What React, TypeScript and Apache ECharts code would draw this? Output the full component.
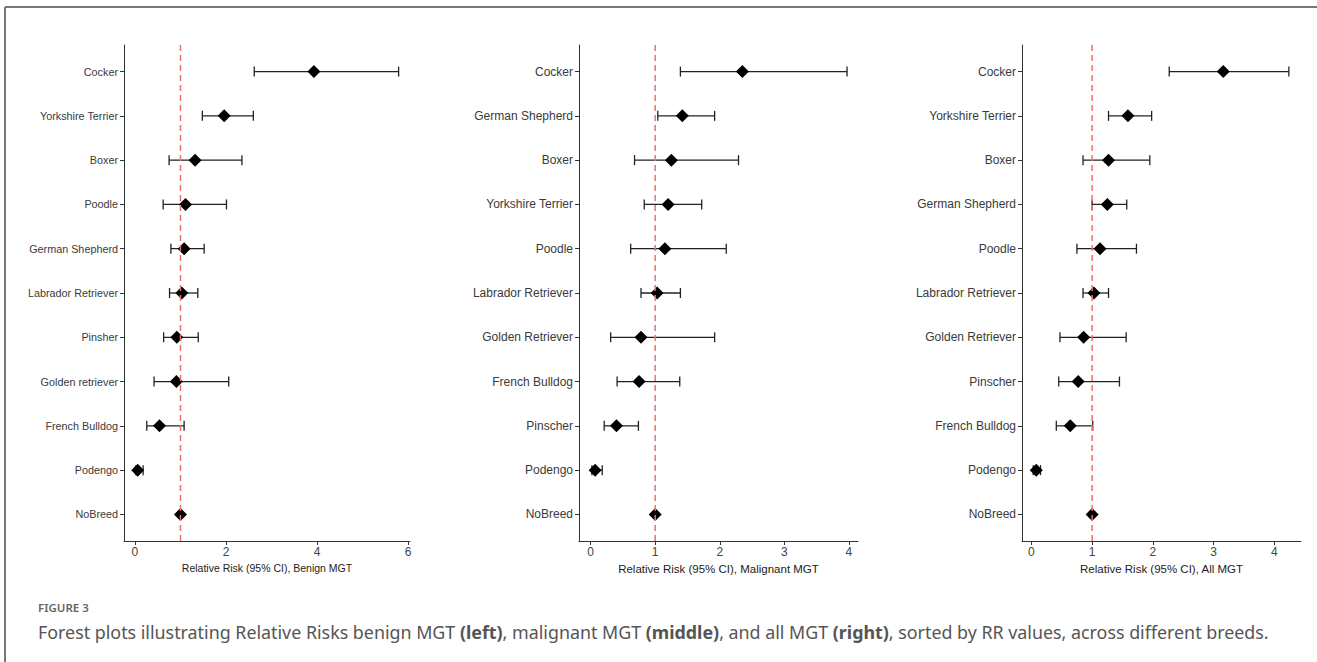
import React, { useEffect, useRef } from "react";
import * as echarts from "echarts";

// Panel 1: Benign MGT
const breedsBenign = ["Cocker", "Yorkshire Terrier", "Boxer", "Poodle", "German Shepherd", "Labrador Retriever", "Pinsher", "Golden retriever", "French Bulldog", "Podengo", "NoBreed"];
const rrBenign = [3.93, 1.96, 1.32, 1.11, 1.08, 1.03, 0.92, 0.91, 0.54, 0.06, 1.0];
const lowBenign = [2.62, 1.48, 0.75, 0.62, 0.79, 0.76, 0.63, 0.42, 0.26, 0.02, 1.0];
const highBenign = [5.79, 2.6, 2.35, 2.01, 1.52, 1.38, 1.39, 2.06, 1.08, 0.18, 1.0];

// Panel 2: Malignant MGT
const breedsMalignant = ["Cocker", "German Shepherd", "Boxer", "Yorkshire Terrier", "Poodle", "Labrador Retriever", "Golden Retriever", "French Bulldog", "Pinscher", "Podengo", "NoBreed"];
const rrMalignant = [2.35, 1.42, 1.25, 1.2, 1.15, 1.03, 0.78, 0.75, 0.4, 0.07, 1.0];
const lowMalignant = [1.39, 1.04, 0.68, 0.83, 0.62, 0.78, 0.31, 0.41, 0.21, 0.02, 1.0];
const highMalignant = [3.97, 1.92, 2.29, 1.72, 2.1, 1.39, 1.92, 1.38, 0.74, 0.18, 1.0];

// Panel 3: All MGT
const breedsAll = ["Cocker", "Yorkshire Terrier", "Boxer", "German Shepherd", "Poodle", "Labrador Retriever", "Golden Retriever", "Pinscher", "French Bulldog", "Podengo", "NoBreed"];
const rrAll = [3.16, 1.59, 1.27, 1.25, 1.13, 1.03, 0.86, 0.77, 0.64, 0.08, 1.0];
const lowAll = [2.27, 1.27, 0.85, 1.0, 0.75, 0.85, 0.47, 0.45, 0.41, 0.03, 1.0];
const highAll = [4.24, 1.98, 1.95, 1.57, 1.73, 1.27, 1.56, 1.45, 1.01, 0.15, 1.0];

const xTicksBenign = [0, 2, 4, 6];
const xTicksOther = [0, 1, 2, 3, 4];
const axisTitles = ["Relative Risk (95% CI), Benign MGT", "Relative Risk (95% CI), Malignant MGT", "Relative Risk (95% CI), All MGT"];
const referenceRR = 1;

const panels = [
  { names: breedsBenign, rr: rrBenign, low: lowBenign, high: highBenign, ticks: xTicksBenign, min: -0.24, max: 6.04, left: 124, width: 286, labelSize: 10.8, titleSize: 10.5, title: axisTitles[0] },
  { names: breedsMalignant, rr: rrMalignant, low: lowMalignant, high: highMalignant, ticks: xTicksOther, min: -0.18, max: 4.14, left: 579, width: 279, labelSize: 12, titleSize: 11.5, title: axisTitles[1] },
  { names: breedsAll, rr: rrAll, low: lowAll, high: highAll, ticks: xTicksOther, min: -0.155, max: 4.44, left: 1022, width: 279, labelSize: 12, titleSize: 11.5, title: axisTitles[2] },
];

const FONT = "Liberation Sans, Arial, sans-serif";

export default function App() {
  const ref = useRef<HTMLDivElement>(null);
  useEffect(() => {
    if (!ref.current) return;
    const chart = echarts.init(ref.current, undefined, { renderer: "svg" });
    const grid: any[] = [];
    const xAxis: any[] = [];
    const yAxis: any[] = [];
    const series: any[] = [];
    panels.forEach((p, i) => {
      const n = p.names.length;
      const yIdx = p.names.map((_, k) => k + 1);
      grid.push({ left: p.left, top: 45, width: p.width, height: 496 });
      xAxis.push({
        type: "value",
        gridIndex: i,
        min: p.min,
        max: p.max,
        name: p.title,
        nameLocation: "middle",
        nameGap: 15,
        nameTextStyle: { fontFamily: FONT, fontSize: p.titleSize, color: "#222" },
        axisLine: { show: true, onZero: false, lineStyle: { color: "#333", width: 1 } },
        axisTick: { show: true, length: 4, lineStyle: { color: "#333" }, customValues: p.ticks },
        axisLabel: { customValues: p.ticks, fontFamily: FONT, fontSize: 12, color: "#444", margin: 5 },
        splitLine: { show: false },
      });
      yAxis.push({
        type: "value",
        gridIndex: i,
        inverse: true,
        min: 0.4,
        max: n + 0.6,
        axisLine: { show: true, onZero: false, lineStyle: { color: "#333", width: 1 } },
        axisTick: { show: true, length: 4, lineStyle: { color: "#333" }, customValues: yIdx },
        axisLabel: {
          customValues: yIdx,
          fontFamily: FONT,
          fontSize: p.labelSize,
          color: "#3a3a3a",
          margin: 6,
          formatter: (v: number) => p.names[Math.round(v) - 1] ?? "",
        },
        splitLine: { show: false },
      });
      series.push({
        type: "custom",
        xAxisIndex: i,
        yAxisIndex: i,
        z: 2,
        data: p.names.map((_, k) => [p.low[k], p.high[k], k + 1]),
        encode: { x: [0, 1], y: 2 },
        renderItem: (_params: any, api: any) => {
          const a = api.coord([api.value(0), api.value(2)]);
          const b = api.coord([api.value(1), api.value(2)]);
          const h = 5;
          const style = { stroke: "#222", lineWidth: 1.3 };
          return {
            type: "group",
            children: [
              { type: "line", shape: { x1: a[0], y1: a[1], x2: b[0], y2: b[1] }, style },
              { type: "line", shape: { x1: a[0], y1: a[1] - h, x2: a[0], y2: a[1] + h }, style },
              { type: "line", shape: { x1: b[0], y1: b[1] - h, x2: b[0], y2: b[1] + h }, style },
            ],
          };
        },
      });
      series.push({
        type: "scatter",
        xAxisIndex: i,
        yAxisIndex: i,
        z: 3,
        symbol: "diamond",
        symbolSize: 13,
        itemStyle: { color: "#000", opacity: 1 },
        data: p.rr.map((v, k) => [v, k + 1]),
      });
      series.push({
        type: "line",
        xAxisIndex: i,
        yAxisIndex: i,
        z: 5,
        symbol: "none",
        lineStyle: { color: "#ee7070", width: 1.5, type: [6, 4] },
        data: [
          [referenceRR, 0.4],
          [referenceRR, n + 0.6],
        ],
      });
    });

    chart.setOption({
      animation: false,
      backgroundColor: "#fff",
      grid,
      xAxis,
      yAxis,
      series,
      graphic: [
        { type: "line", shape: { x1: 5, y1: 7, x2: 1317, y2: 7 }, style: { stroke: "#777", lineWidth: 2 } },
        { type: "line", shape: { x1: 5, y1: 7, x2: 5, y2: 662 }, style: { stroke: "#777", lineWidth: 2 } },
        {
          type: "text",
          x: 38,
          y: 607,
          style: { text: "FIGURE 3", fontFamily: "Noto Sans", fontSize: 11.5, fontWeight: 600, fill: "#666", verticalAlign: "middle" },
        },
        {
          type: "text",
          x: 38,
          y: 632,
          style: {
            text: "Forest plots illustrating Relative Risks benign MGT {b|(left)}, malignant MGT {b|(middle)}, and all MGT {b|(right)}, sorted by RR values, across different breeds.",
            fontFamily: "Noto Sans",
            fontSize: 17.85,
            fill: "#555",
            verticalAlign: "middle",
            rich: { b: { fontFamily: "Noto Sans", fontSize: 17.85, fontWeight: "bold", fill: "#555" } },
          },
        },
      ],
    });
    return () => chart.dispose();
  }, []);
  return <div ref={ref} style={{ position: "fixed", left: 0, top: 0, width: 1317, height: 662, background: "#fff" }} />;
}
